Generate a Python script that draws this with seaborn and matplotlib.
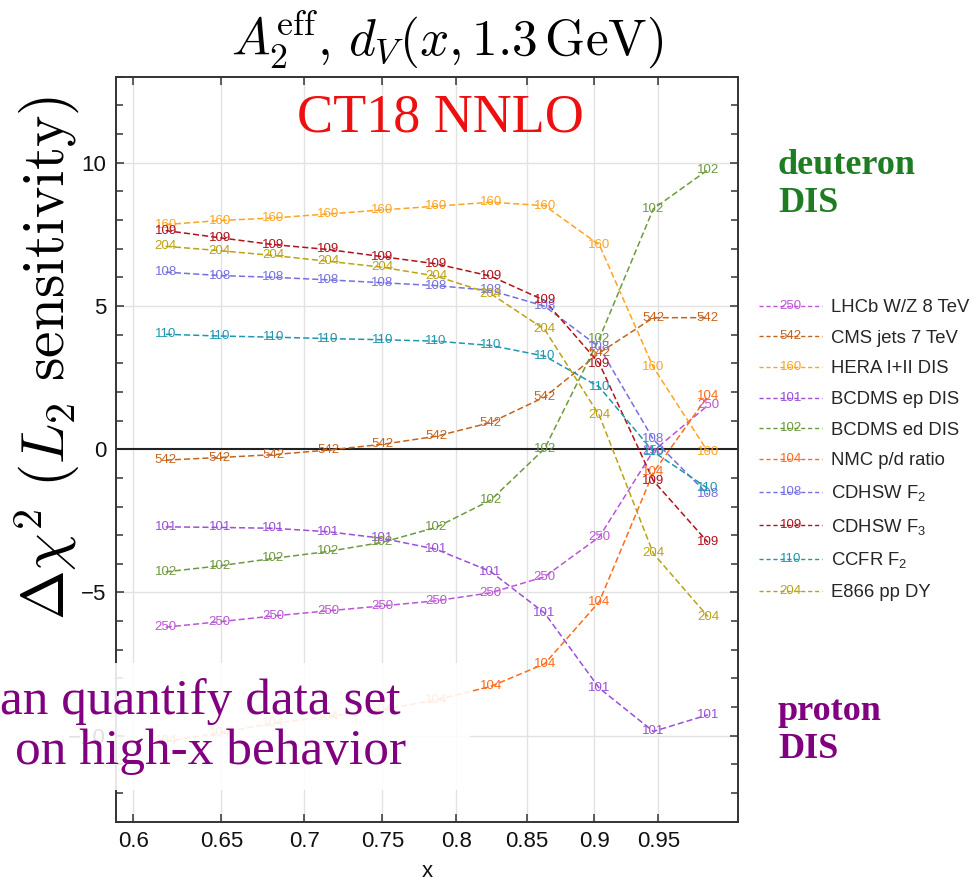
import numpy as np
import pandas as pd
import matplotlib
matplotlib.use("Agg")
import matplotlib.pyplot as plt
import seaborn as sns
from matplotlib.lines import Line2D
from matplotlib.text import Text
from matplotlib.legend_handler import HandlerBase
from matplotlib.patches import Rectangle
from matplotlib.ticker import FixedLocator, MultipleLocator, FuncFormatter

# ---------------- data ----------------
x_vals = [0.618, 0.649, 0.681, 0.715, 0.750, 0.786, 0.824, 0.863, 0.904, 0.946, 0.990]

ids = ["250", "542", "160", "101", "102", "104", "108", "109", "110", "204"]
names = ["LHCb W/Z 8 TeV", "CMS jets 7 TeV", "HERA I+II DIS", "BCDMS ep DIS",
         "BCDMS ed DIS", "NMC p/d ratio", r"CDHSW F$_2$", r"CDHSW F$_3$",
         r"CCFR F$_2$", "E866 pp DY"]
colors = ["#BC55D6", "#C4641E", "#FFA41F", "#9B50D6", "#6E9A3E",
          "#FF6B1C", "#7570E2", "#B2121C", "#2097B0", "#BCA214"]

s250 = [-6.21, -6.02, -5.82, -5.64, -5.47, -5.29, -5.01, -4.45, -3.06, -0.06, 1.53]
s542 = [-0.38, -0.29, -0.19, -0.03, 0.17, 0.45, 0.93, 1.82, 3.36, 4.59, 4.59]
s160 = [7.84, 7.98, 8.07, 8.21, 8.35, 8.48, 8.62, 8.50, 7.13, 2.86, -0.09]
s101 = [-2.71, -2.73, -2.76, -2.88, -3.11, -3.49, -4.27, -5.72, -8.34, -9.85, -9.27]
s102 = [-4.28, -4.07, -3.81, -3.57, -3.25, -2.73, -1.78, 0.02, 3.86, 8.39, 9.75]
s104 = [-10.20, -9.90, -9.56, -9.33, -9.09, -8.75, -8.28, -7.49, -5.32, -0.81, 1.86]
s108 = [6.18, 6.06, 6.00, 5.91, 5.81, 5.71, 5.54, 4.99, 3.56, 0.34, -1.58]
s109 = [7.63, 7.38, 7.14, 6.97, 6.72, 6.47, 6.04, 5.19, 2.99, -1.10, -3.25]
s110 = [4.01, 3.95, 3.91, 3.86, 3.82, 3.77, 3.62, 3.25, 2.17, -0.09, -1.37]
s204 = [7.08, 6.93, 6.76, 6.56, 6.35, 6.04, 5.43, 4.18, 1.18, -3.64, -5.84]

series = [s250, s542, s160, s101, s102, s104, s108, s109, s110, s204]
x_ticks = [0.6, 0.65, 0.7, 0.75, 0.8, 0.85, 0.9, 0.95]
x_tick_labels = ["0.6", "0.65", "0.7", "0.75", "0.8", "0.85", "0.9", "0.95"]
y_ticks = [-10, -5, 0, 5, 10]

# ---------------- style ----------------
sns.set_theme(style="white")
plt.rcParams["font.family"] = ["Liberation Sans", "DejaVu Sans"]
plt.rcParams["mathtext.fontset"] = "custom"
plt.rcParams["mathtext.rm"] = "Liberation Sans"
plt.rcParams["mathtext.it"] = "Liberation Sans:italic"
plt.rcParams["mathtext.bf"] = "Liberation Sans:bold"

W, H = 979, 881
fig = plt.figure(figsize=(W / 100, H / 100), dpi=100)
fig.patch.set_facecolor("white")
ax = fig.add_axes([116 / W, 1 - 821.7 / H, (737.7 - 116) / W, (821.7 - 76.7) / H])

fwd = lambda v: np.power(np.clip(v, 1e-9, None), 0.2)
inv = lambda v: np.power(np.clip(v, 1e-9, None), 5.0)
ax.set_xscale("function", functions=(fwd, inv))
ax.set_xlim(0.5905, 1.0147)
ax.set_ylim(-13, 13)

# grid
for xt in x_ticks:
    ax.axvline(xt, color="#E2E2E2", lw=1.0, zorder=0)
for yt in [-10, -5, 5, 10]:
    ax.axhline(yt, color="#E2E2E2", lw=1.0, zorder=0)
ax.axhline(0, color="#222222", lw=1.5, zorder=1)

# lines + labels
for sid, col, vals in zip(ids, colors, series):
    df = pd.DataFrame({"x": x_vals, "y": vals})
    sns.lineplot(data=df, x="x", y="y", ax=ax, color=col, linestyle=(0, (4, 2)),
                 lw=1.1, legend=False, zorder=2)
    for xv, yv in zip(x_vals, vals):
        ax.text(xv, yv, sid, color=col, fontsize=9.5, ha="center", va="center",
                zorder=3)

# axes styling
ax.xaxis.set_major_locator(FixedLocator(x_ticks))
ax.set_xticklabels(x_tick_labels)
ax.xaxis.set_minor_locator(FixedLocator([]))
ax.yaxis.set_major_locator(FixedLocator(y_ticks))
ax.yaxis.set_minor_locator(MultipleLocator(1))
ax.yaxis.set_major_formatter(FuncFormatter(lambda v, p: f"{int(v)}".replace("-", "\u2212")))
ax.tick_params(axis="both", which="both", direction="in", top=True, right=True,
               bottom=True, left=True, color="#333333", width=1.1)
ax.tick_params(axis="both", which="major", length=6, labelsize=16, pad=7,
               labelcolor="#111111")
ax.tick_params(axis="y", which="minor", length=5)
for sp in ax.spines.values():
    sp.set_color("#333333")
    sp.set_linewidth(1.4)
ax.set_xlabel("x", fontsize=16, labelpad=6, color="#111111")
ax.set_ylabel("")

# legend with number-on-line handles
class NumHandler(HandlerBase):
    def __init__(self, num, color):
        super().__init__()
        self.num = num
        self.color = color

    def create_artists(self, legend, orig_handle, xdescent, ydescent, width,
                       height, fontsize, trans):
        yc = height / 2 - ydescent
        line = Line2D([-xdescent, width - xdescent], [yc, yc], color=self.color,
                      linestyle=(0, (3, 2)), lw=1.0, transform=trans)
        txt = Text((width) / 2 - xdescent, yc, self.num, color=self.color,
                   fontsize=9.5, ha="center", va="center", transform=trans)
        return [line, txt]

handles = [Line2D([], [], color=c) for c in colors]
hmap = {h: NumHandler(i, c) for h, i, c in zip(handles, ids, colors)}
leg = fig.legend(handles, names, handler_map=hmap, loc="center left",
                 bbox_to_anchor=(752 / W, 1 - 450 / H), frameon=False,
                 fontsize=13.3, handlelength=3.4, handletextpad=0.5,
                 labelspacing=0.74, borderaxespad=0)

# titles / annotations
fig.text(447 / W, 1 - 40 / H, r"$A_2^{\mathrm{eff}},\, d_V(x, 1.3\,\mathrm{GeV})$",
         ha="center", va="center", fontsize=37, math_fontfamily="cm", color="black")
fig.text(47 / W, 1 - 358 / H, r"$\Delta\chi^2\ (L_2\ \mathrm{sensitivity})$",
         ha="center", va="center", rotation=90, fontsize=43,
         math_fontfamily="cm", color="black")
fig.text(440 / W, 1 - 118 / H, "CT18 NNLO", ha="center", va="center",
         fontsize=39, family="Liberation Serif", color="#EE1010")
fig.text(778 / W, 1 - 166 / H, "deuteron", ha="left", va="center", fontsize=26,
         family="Liberation Serif", weight="bold", color="#1E7D22")
fig.text(778 / W, 1 - 204 / H, "DIS", ha="left", va="center", fontsize=26,
         family="Liberation Serif", weight="bold", color="#1E7D22")
fig.text(778 / W, 1 - 712 / H, "proton", ha="left", va="center", fontsize=26,
         family="Liberation Serif", weight="bold", color="#800080")
fig.text(778 / W, 1 - 749 / H, "DIS", ha="left", va="center", fontsize=26,
         family="Liberation Serif", weight="bold", color="#800080")

# semi-transparent white box with purple comment text
fig.patches.append(Rectangle((0, 1 - 790 / H), 470 / W, 127 / H,
                             transform=fig.transFigure, facecolor="white",
                             edgecolor="none", alpha=0.88, zorder=5))
fig.text(0 / W, 1 - 702 / H, "an quantify data set", ha="left", va="center",
         fontsize=37, family="Liberation Serif", color="#800080", zorder=6)
fig.text(15 / W, 1 - 752 / H, "on high-x behavior", ha="left", va="center",
         fontsize=37, family="Liberation Serif", color="#800080", zorder=6)

fig.savefig("out.png", dpi=100)
